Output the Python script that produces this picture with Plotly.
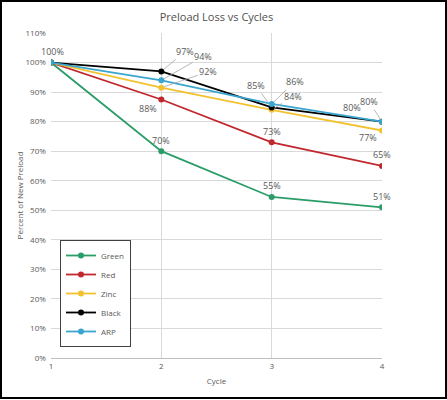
import plotly.graph_objects as go

cycles = [1, 2, 3, 4]
series_names = ["Green", "Red", "Zinc", "Black", "ARP"]
green = [1.00, 0.70, 0.545, 0.51]
red = [1.00, 0.875, 0.73, 0.65]
zinc = [1.00, 0.915, 0.84, 0.77]
black = [1.00, 0.97, 0.848, 0.80]
arp = [1.00, 0.94, 0.86, 0.80]
green_labels = ["100%", "70%", "55%", "51%"]
red_labels = ["100%", "88%", "73%", "65%"]
zinc_labels = ["100%", "92%", "84%", "77%"]
black_labels = ["100%", "97%", "85%", "80%"]
arp_labels = ["100%", "94%", "86%", "80%"]

colors = {"Green": "#2A9D68", "Red": "#C0282E", "Zinc": "#F2C230",
          "Black": "#000000", "ARP": "#3AA6CF"}
values = {"Green": green, "Red": red, "Zinc": zinc, "Black": black, "ARP": arp}
labels = {"Green": green_labels, "Red": red_labels, "Zinc": zinc_labels,
          "Black": black_labels, "ARP": arp_labels}

# label placement: (mode, dx, dy) ; mode 'shift' = plain offset, 'lead' = leader line
place = {
    "Green": [None, ("shift", 0, 11), ("shift", 0, 11), ("shift", 0, 11)],
    "Red": [None, ("shift", -13, -9), ("shift", 0, 11), ("shift", 0, 11)],
    "Zinc": [None, ("lead", 47, -16), ("lead", 21, -13), ("shift", -14, -7)],
    "Black": [("shift", 1, 11), ("lead", 24, -20), ("lead", -16, -22), ("shift", -30, 14)],
    "ARP": [None, ("lead", 42, -24), ("lead", 23, -22), ("lead", -13, -20)],
}

fig = go.Figure()
for name in series_names:
    fig.add_trace(go.Scatter(
        x=cycles, y=values[name], name=name, mode="lines+markers",
        line=dict(color=colors[name], width=1.8),
        marker=dict(color=colors[name], size=6, symbol="circle"),
    ))

annotations = []
for name in series_names:
    for i, p in enumerate(place[name]):
        if p is None:
            continue
        mode, dx, dy = p
        base = dict(x=cycles[i], y=values[name][i], xref="x", yref="y",
                    text=labels[name][i],
                    font=dict(size=9, color="#595959", family="Open Sans"))
        if mode == "shift":
            base.update(showarrow=False, xshift=dx, yshift=dy)
        else:
            base.update(showarrow=True, ax=dx, ay=dy, arrowhead=0,
                        arrowwidth=0.8, arrowcolor="#A6A6A6", standoff=3)
        annotations.append(base)

# outer black frame
W, H = 447, 400
L, R, T, B = 51, 65, 33, 42
pw, ph = W - L - R, H - T - B
def px(x):
    return (x - L) / pw
def py(y):
    return (H - B - y) / ph

fig.update_layout(
    width=W, height=H,
    margin=dict(l=L, r=R, t=T, b=B, pad=0, autoexpand=False),
    paper_bgcolor="white", plot_bgcolor="white",
    font=dict(family="Open Sans", color="#595959", size=9),
    title=dict(text="Preload Loss vs Cycles", x=0.5, xref="paper",
               y=1 - 17 / H, yanchor="middle", xanchor="center",
               font=dict(size=11, color="#505050", family="Open Sans")),
    xaxis=dict(range=[1, 4], dtick=1, tick0=1, showgrid=True, automargin=False,
               gridcolor="#D9D9D9", gridwidth=1, zeroline=False,
               showline=True, linecolor="#BFBFBF", linewidth=1,
               ticks="", tickfont=dict(size=8, color="#595959"),
               title=dict(text="Cycle", font=dict(size=8, color="#595959"),
                          standoff=8)),
    yaxis=dict(range=[0, 1.1], dtick=0.1, tickformat=".0%", showgrid=True,
               automargin=False,
               gridcolor="#D9D9D9", gridwidth=1, zeroline=False,
               showline=False, ticks="", ticksuffix="  ",
               tickfont=dict(size=8, color="#595959"),
               title=dict(text="Percent of New Preload",
                          font=dict(size=8, color="#595959"), standoff=0)),
    legend=dict(x=px(60), y=py(240), xanchor="left", yanchor="top",
                bgcolor="white", bordercolor="#404040", borderwidth=1,
                font=dict(size=8, color="#595959"), itemwidth=30,
                tracegroupgap=0),
    annotations=annotations,
    shapes=[dict(type="rect", xref="paper", yref="paper",
                 x0=px(1), x1=px(446), y0=py(398), y1=py(1),
                 line=dict(color="black", width=2), layer="above")],
    showlegend=True,
)

fig.write_html("out.html",
               config={"displayModeBar": False},
               post_script="document.body.style.margin='0';"
                           "document.body.style.overflow='hidden';")
